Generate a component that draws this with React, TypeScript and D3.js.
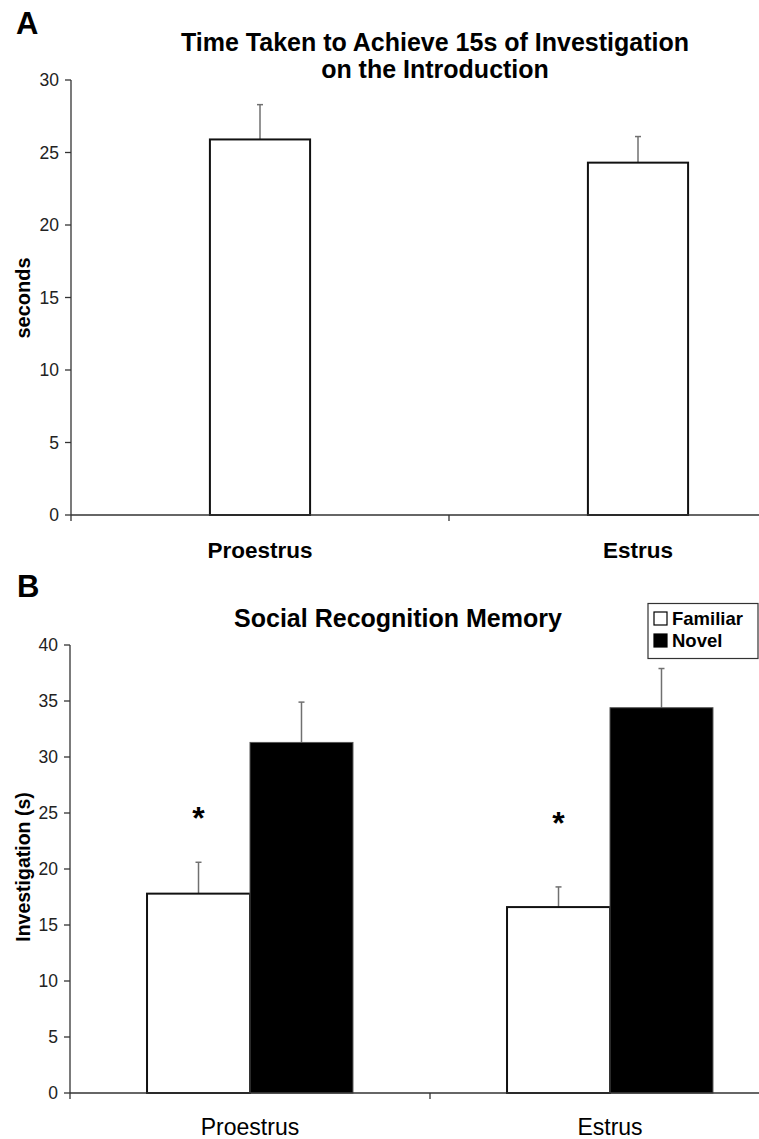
import React from 'react';
import * as d3 from 'd3';

// panel A
const phases = ['Proestrus', 'Estrus'];
const timeMeans = [25.9, 24.3];
const timeErrors = [2.4, 1.8];
const ticksA = [0, 5, 10, 15, 20, 25, 30];

// panel B
const series = ['Familiar', 'Novel'];
const familiarMeans = [17.8, 16.6];
const familiarErrors = [2.8, 1.8];
const novelMeans = [31.3, 34.4];
const novelErrors = [3.6, 3.5];
const ticksB = [0, 5, 10, 15, 20, 25, 30, 35, 40];
const starLevels = [24.8, 24.4]; // where the * sits above each familiar bar

const FONT = '"Liberation Sans", Arial, sans-serif';
const AXIS = '#333';
const ERR = '#707070';

const W = 759;
const H = 1139;

// little helper for vertical error bar with a cap
const ErrorBar = ({ x, y0, y1 }: { x: number; y0: number; y1: number }) => (
  <g stroke={ERR} strokeWidth={1.5}>
    <line x1={x} x2={x} y1={y0} y2={y1} />
    <line x1={x - 3} x2={x + 3} y1={y1} y2={y1} />
  </g>
);

const YAxis = ({ scale, ticks, x }: { scale: d3.ScaleLinear<number, number>; ticks: number[]; x: number }) => {
  const [lo, hi] = scale.range();
  return (
    <g>
      <line x1={x} x2={x} y1={hi} y2={lo} stroke={AXIS} strokeWidth={1.3} />
      {ticks.map(t => (
        <g key={t} transform={`translate(${x}, ${scale(t)})`}>
          <line x1={-6} x2={0} stroke={AXIS} strokeWidth={1.3} />
          <text x={-12} dy="0.36em" textAnchor="end" fontSize={17.5} fill="#222">
            {t}
          </text>
        </g>
      ))}
    </g>
  );
};

const XAxis = ({ scale, y }: { scale: d3.ScaleBand<string>; y: number }) => {
  const [a, b] = scale.range();
  const edges = [...scale.domain().map(d => scale(d) as number), b];
  return (
    <g>
      <line x1={a} x2={b} y1={y} y2={y} stroke={AXIS} strokeWidth={1.3} />
      {edges.map((e, i) => (
        <line key={i} x1={e} x2={e} y1={y} y2={y + 6} stroke={AXIS} strokeWidth={1.3} />
      ))}
    </g>
  );
};

const PanelA = () => {
  const x = d3.scaleBand().domain(phases).range([71, 827]);
  const y = d3.scaleLinear().domain([0, 30]).range([515, 80]);
  const barW = x.bandwidth() * 0.265;

  return (
    <g>
      <text x={16} y={34} fontSize={31} fontWeight="bold">A</text>
      <text x={435} y={51} textAnchor="middle" fontSize={25} fontWeight="bold">
        Time Taken to Achieve 15s of Investigation
      </text>
      <text x={435} y={78} textAnchor="middle" fontSize={25} fontWeight="bold">
        on the Introduction
      </text>

      {phases.map((p, i) => {
        const cx = (x(p) as number) + x.bandwidth() / 2;
        return (
          <g key={p}>
            <ErrorBar x={cx} y0={y(timeMeans[i])} y1={y(timeMeans[i] + timeErrors[i])} />
            <rect
              x={cx - barW / 2}
              y={y(timeMeans[i])}
              width={barW}
              height={y(0) - y(timeMeans[i])}
              fill="#fff"
              stroke="#111"
              strokeWidth={2}
            />
            <text x={cx} y={558} textAnchor="middle" fontSize={22.5} fontWeight="bold">
              {p}
            </text>
          </g>
        );
      })}

      <XAxis scale={x} y={y(0)} />
      <YAxis scale={y} ticks={ticksA} x={71} />
      <text
        transform={`translate(30, 298) rotate(-90)`}
        textAnchor="middle"
        fontSize={20}
        fontWeight="bold"
      >
        seconds
      </text>
    </g>
  );
};

const PanelB = () => {
  const x = d3.scaleBand().domain(phases).range([70, 790]);
  const inner = d3.scaleBand().domain(series).range([0, x.bandwidth()]).paddingOuter(0.748);
  const y = d3.scaleLinear().domain([0, 40]).range([1093, 645]);
  const colors = d3.scaleOrdinal<string, string>().domain(series).range(['#fff', '#000']);
  const means = [familiarMeans, novelMeans];
  const errs = [familiarErrors, novelErrors];

  return (
    <g>
      <text x={17} y={597} fontSize={31} fontWeight="bold">B</text>
      <text x={398} y={627} textAnchor="middle" fontSize={25} fontWeight="bold">
        Social Recognition Memory
      </text>

      {phases.map((p, i) => (
        <g key={p} transform={`translate(${x(p)}, 0)`}>
          {series.map((s, k) => {
            const v = means[k][i];
            const bx = inner(s) as number;
            return (
              <g key={s}>
                <ErrorBar x={bx + inner.bandwidth() / 2} y0={y(v)} y1={y(v + errs[k][i])} />
                <rect
                  x={bx}
                  y={y(v)}
                  width={inner.bandwidth()}
                  height={y(0) - y(v)}
                  fill={colors(s)}
                  stroke={k === 0 ? '#111' : '#555'}
                  strokeWidth={k === 0 ? 2 : 1}
                />
              </g>
            );
          })}
          <text
            x={(inner(series[0]) as number) + inner.bandwidth() / 2}
            y={y(starLevels[i])}
            dy={14}
            textAnchor="middle"
            fontSize={32}
            fontWeight="bold"
          >
            *
          </text>
          <text x={x.bandwidth() / 2} y={1135} textAnchor="middle" fontSize={23}>
            {p}
          </text>
        </g>
      ))}

      <XAxis scale={x} y={y(0)} />
      <YAxis scale={y} ticks={ticksB} x={70} />
      <text
        transform={`translate(30, 867) rotate(-90)`}
        textAnchor="middle"
        fontSize={19.5}
        fontWeight="bold"
      >
        Investigation (s)
      </text>

      {/* legend */}
      <g>
        <rect x={648} y={603.5} width={110} height={55} fill="#fff" stroke="#333" strokeWidth={1.2} />
        {series.map((s, k) => (
          <g key={s} transform={`translate(654, ${612 + k * 22})`}>
            <rect width={13} height={13} fill={colors(s)} stroke="#000" strokeWidth={1.2} />
            <text x={18} y={13} fontSize={18.5} fontWeight="bold">
              {s}
            </text>
          </g>
        ))}
      </g>
    </g>
  );
};

export default function App() {
  return (
    <svg
      width={W}
      height={H}
      style={{ position: 'absolute', left: 0, top: 0, background: '#fff' }}
      fontFamily={FONT}
    >
      <rect width={W} height={H} fill="#fff" />
      <PanelA />
      <PanelB />
    </svg>
  );
}
